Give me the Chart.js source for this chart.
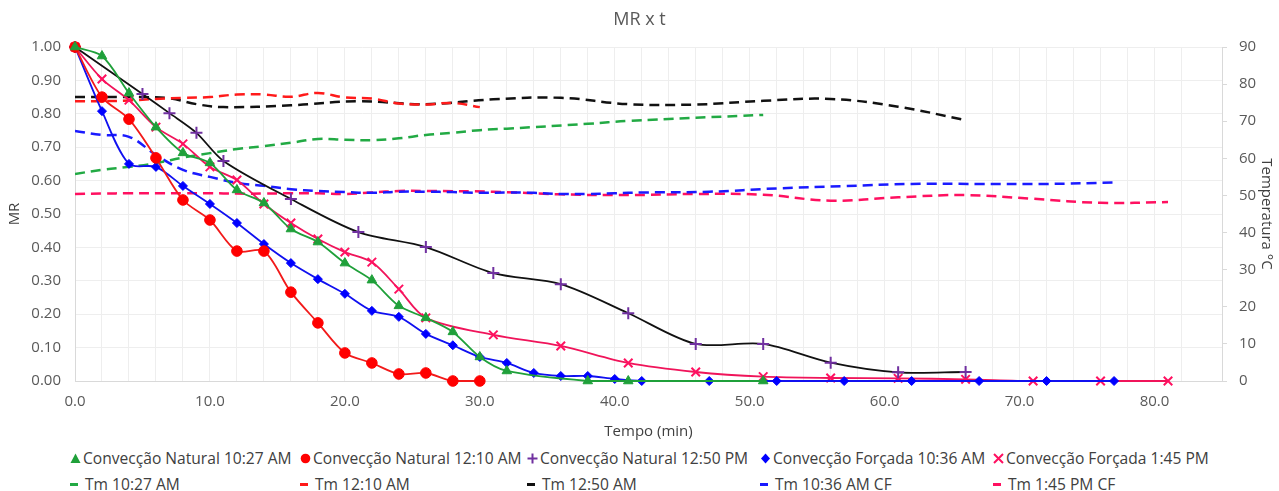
<!DOCTYPE html>
<html>
<head>
<meta charset="utf-8">
<script src="https://cdn.jsdelivr.net/npm/chart.js@4"></script>
<style>
  body { margin: 0; background: #fff; font-family: "Open Sans", sans-serif; }
  #wrap { position: relative; width: 1279px; height: 491px; }
  #box { position: absolute; left: 0; top: 0; width: 1279px; height: 445px; }
  .lg { position: absolute; height: 20px; line-height: 20px; font-size: 15.6px; color: #404040; white-space: nowrap; }
  .lg svg { position: absolute; left: 0; top: 5px; }
  .lg span { position: absolute; left: 0; top: 0; }
</style>
</head>
<body>
<div id="wrap">
  <div id="box"><canvas id="mrChart"></canvas></div>
  <div id="legend"></div>
</div>
<script>
// tempos (min) e razão de umidade (MR) + temperatura média (°C)
const tNat1027 = [0, 2, 4, 6, 8, 10, 12, 14, 16, 18, 20, 22, 24, 26, 28, 30, 32, 38, 41, 51];
const mrNat1027 = [1.00, 0.973, 0.862, 0.760, 0.683, 0.653, 0.572, 0.533, 0.455, 0.416, 0.353, 0.302, 0.225, 0.189, 0.147, 0.072, 0.030, 0, 0, 0];
const tmNat1027 = [55.8, 56.9, 57.7, 58.7, 60.2, 61.4, 62.5, 63.3, 64.2, 65.2, 65.0, 64.9, 65.4, 66.3, 66.9, 67.6, 68.0, 69.3, 70.1, 71.7];

const tNat1210 = [0, 2, 4, 6, 8, 10, 12, 14, 16, 18, 20, 22, 24, 26, 28, 30];
const mrNat1210 = [1.00, 0.850, 0.784, 0.668, 0.542, 0.482, 0.389, 0.389, 0.266, 0.174, 0.084, 0.054, 0.021, 0.024, 0, 0];
const tmNat1210 = [75.4, 75.4, 75.6, 76.0, 76.3, 76.5, 77.2, 77.2, 76.6, 77.6, 76.4, 76.1, 74.8, 74.5, 74.9, 73.8];

const tNat1250 = [0, 5, 7, 9, 11, 16, 21, 26, 31, 36, 41, 46, 51, 56, 61, 66];
const mrNat1250 = [1.00, 0.859, 0.802, 0.743, 0.659, 0.545, 0.446, 0.401, 0.323, 0.290, 0.203, 0.111, 0.111, 0.055, 0.026, 0.027];
const tmNat1250 = [76.5, 76.5, 76.2, 74.6, 73.8, 74.3, 75.4, 74.6, 75.9, 76.3, 74.6, 74.5, 75.5, 76.0, 73.9, 70.3];

const tForc1036 = [0, 2, 4, 6, 8, 10, 12, 14, 16, 18, 20, 22, 24, 26, 28, 30, 32, 34, 36, 38, 40, 42, 47, 52, 57, 62, 67, 72, 77];
const mrForc1036 = [1.00, 0.808, 0.650, 0.641, 0.584, 0.530, 0.473, 0.410, 0.353, 0.305, 0.261, 0.210, 0.192, 0.141, 0.107, 0.072, 0.054, 0.024, 0.015, 0.015, 0.006, 0, 0, 0, 0, 0, 0, 0, 0];
const tmForc1036 = [67.4, 66.3, 65.8, 60.9, 56.9, 55.0, 53.4, 52.6, 51.7, 51.2, 50.9, 50.7, 51.0, 51.0, 50.9, 50.7, 50.8, 50.7, 50.4, 50.4, 50.6, 50.8, 51.0, 51.9, 52.5, 53.1, 53.1, 53.1, 53.5];

const tForc145 = [0, 2, 4, 6, 8, 10, 12, 14, 16, 18, 20, 22, 24, 26, 31, 36, 41, 46, 51, 56, 61, 66, 71, 76, 81];
const mrForc145 = [1.00, 0.904, 0.841, 0.760, 0.710, 0.641, 0.602, 0.530, 0.473, 0.425, 0.386, 0.356, 0.275, 0.189, 0.138, 0.105, 0.054, 0.027, 0.013, 0.009, 0.008, 0.005, 0, 0, 0];
const tmForc145 = [50.4, 50.5, 50.6, 50.6, 50.6, 50.6, 50.5, 50.5, 50.6, 50.6, 50.4, 50.8, 51.2, 51.2, 51.0, 50.3, 50.1, 50.4, 50.2, 48.6, 49.5, 50.1, 49.1, 48.0, 48.2];

const mrLabels = ["Convecção Natural 10:27 AM", "Convecção Natural 12:10 AM", "Convecção Natural 12:50 PM", "Convecção Forçada 10:36 AM", "Convecção Forçada 1:45 PM"];
const tmLabels = ["Tm 10:27 AM", "Tm 12:10 AM", "Tm 12:50 AM", "Tm 10:36 AM CF", "Tm 1:45 PM CF"];

const pts = (xs, ys) => xs.map((x, i) => ({ x: x, y: ys[i] }));

function mrSet(label, xs, ys, line, marker, style, radius, bw) {
  return {
    label, data: pts(xs, ys), yAxisID: "y",
    borderColor: line, borderWidth: 1.8, tension: 0.3, clip: false,
    pointStyle: style, pointRadius: radius, pointHoverRadius: radius,
    pointBackgroundColor: marker, pointBorderColor: marker, pointBorderWidth: bw
  };
}
function tmSet(label, xs, ys, color) {
  return {
    label, data: pts(xs, ys), yAxisID: "y2",
    borderColor: color, borderWidth: 2.5, borderDash: [10, 6], tension: 0.4,
    pointRadius: 0, pointHoverRadius: 0
  };
}

const datasets = [
  mrSet(mrLabels[0], tNat1027, mrNat1027, "#1fa03a", "#1fa03a", "triangle", 5.5, 1),
  mrSet(mrLabels[1], tNat1210, mrNat1210, "#f21a1a", "#ff0000", "circle", 5.3, 1),
  mrSet(mrLabels[2], tNat1250, mrNat1250, "#111111", "#7030a0", "cross", 6, 2),
  mrSet(mrLabels[3], tForc1036, mrForc1036, "#1010f0", "#0000ff", "rectRot", 4.5, 1),
  mrSet(mrLabels[4], tForc145, mrForc145, "#f0145a", "#ff1060", "crossRot", 6, 2),
  tmSet(tmLabels[0], tNat1027, tmNat1027, "#22aa44"),
  tmSet(tmLabels[1], tNat1210, tmNat1210, "#ff1a1a"),
  tmSet(tmLabels[2], tNat1250, tmNat1250, "#111111"),
  tmSet(tmLabels[3], tForc1036, tmForc1036, "#1a1aff"),
  tmSet(tmLabels[4], tForc145, tmForc145, "#ff1060")
];

const tickFont = { family: "Open Sans", size: 15 };
const grey = "#595959";

new Chart(document.getElementById("mrChart"), {
  type: "line",
  data: { datasets },
  options: {
    responsive: true,
    maintainAspectRatio: false,
    animation: false,
    layout: { padding: 0 },
    plugins: {
      legend: { display: false },
      tooltip: { enabled: false },
      title: {
        display: true, text: "MR x t", color: grey,
        font: { family: "Open Sans", size: 18, weight: "normal" },
        padding: { top: 9, bottom: 16.4 }
      }
    },
    scales: {
      x: {
        type: "linear", min: 0, max: 85,
        ticks: {
          stepSize: 2, autoSkip: false, maxRotation: 0, color: grey, font: tickFont, padding: 12,
          callback: (v) => (v % 10 === 0 ? v.toFixed(1) : "")
        },
        grid: { color: "#eeeeee", drawTicks: false },
        border: { color: "#d9d9d9" },
        title: { display: true, text: "Tempo (min)", color: "#404040", font: { family: "Open Sans", size: 15 }, padding: 4 },
        afterFit: (s) => { s.height = 64; }
      },
      y: {
        position: "left", min: 0, max: 1,
        ticks: { stepSize: 0.1, color: grey, font: tickFont, padding: 14, callback: (v) => v.toFixed(2) },
        grid: { color: "#eeeeee", drawTicks: false },
        border: { color: "#d9d9d9" },
        title: { display: true, text: "MR", color: "#404040", font: { family: "Open Sans", size: 15 }, padding: { top: 6 } },
        afterFit: (s) => { s.width = 75; }
      },
      y2: {
        position: "right", min: 0, max: 90,
        ticks: { stepSize: 10, color: grey, font: tickFont, padding: 12 },
        grid: { drawOnChartArea: false, tickLength: 5, tickColor: "#d9d9d9" },
        border: { color: "#d9d9d9" },
        title: { display: true, text: "Temperatura °C", color: "#404040", font: { family: "Open Sans", size: 15 }, padding: 4 },
        afterFit: (s) => { s.width = 57; }
      }
    }
  }
});

// legenda em duas linhas (colunas alinhadas, como no Excel)
const cols = [70, 300, 527, 760, 993];
const markers = [
  '<svg width="11" height="11"><polygon points="0.5,10 5.5,0.5 10.5,10" fill="#1fa03a"/></svg>',
  '<svg width="11" height="11"><circle cx="5.5" cy="5.5" r="4.8" fill="#ff0000"/></svg>',
  '<svg width="11" height="11"><path d="M5.5 0.5V10.5M0.5 5.5H10.5" stroke="#7030a0" stroke-width="2"/></svg>',
  '<svg width="11" height="11"><polygon points="5.5,0.5 10,5.5 5.5,10.5 1,5.5" fill="#0000ff"/></svg>',
  '<svg width="11" height="11"><path d="M1 1L10 10M10 1L1 10" stroke="#ff1060" stroke-width="2"/></svg>'
];
const dashColors = ["#22aa44", "#ff1a1a", "#111111", "#1a1aff", "#ff1060"];
const legend = document.getElementById("legend");
mrLabels.forEach((lab, i) => {
  const d = document.createElement("div");
  d.className = "lg";
  d.style.left = cols[i] + "px";
  d.style.top = "448px";
  d.innerHTML = markers[i] + '<span style="left:13px">' + lab + "</span>";
  legend.appendChild(d);
});
tmLabels.forEach((lab, i) => {
  const d = document.createElement("div");
  d.className = "lg";
  d.style.left = cols[i] + "px";
  d.style.top = "474px";
  d.innerHTML = '<svg width="9" height="11"><rect x="0" y="4" width="8" height="3" fill="' + dashColors[i] + '"/></svg>' +
    '<span style="left:15px">' + lab + "</span>";
  legend.appendChild(d);
});
</script>
</body>
</html>
